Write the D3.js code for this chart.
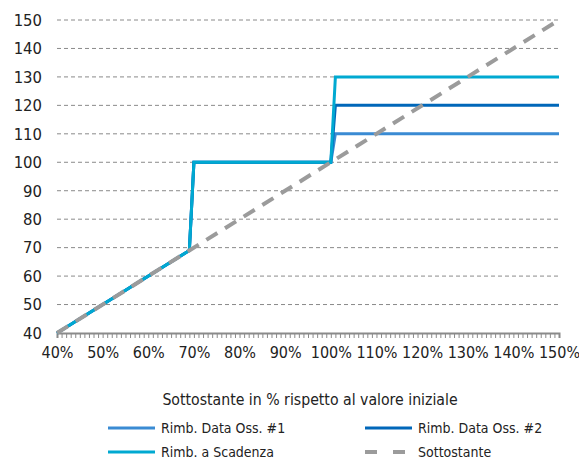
<!DOCTYPE html>
<html>
<head>
<meta charset="utf-8">
<script src="https://cdn.jsdelivr.net/npm/d3@7"></script>
<style>
  body { margin: 0; background: #fff; }
  svg text { font-family: "DejaVu Sans Condensed", "DejaVu Sans", sans-serif; fill: #222; }
</style>
</head>
<body>
<svg id="chart" width="579" height="460"></svg>
<script>
// Breakpoints of the payoff curves (underlying level in % of initial value)
const levels = [40, 69, 70, 100, 101, 150];
const rimbOss1 = [40, 69, 100, 100, 110, 110];
const rimbOss2 = [40, 69, 100, 100, 120, 120];
const rimbScadenza = [40, 69, 100, 100, 130, 130];
const sottostanteX = [40, 150];
const sottostanteY = [40, 150];

const xTicks = [40, 50, 60, 70, 80, 90, 100, 110, 120, 130, 140, 150];
const yTicks = [40, 50, 60, 70, 80, 90, 100, 110, 120, 130, 140, 150];

const xTitle = 'Sottostante in % rispetto al valore iniziale';

const series = [
  { name: 'Rimb. Data Oss. #1', xs: levels, ys: rimbOss1, color: '#3a8bd3', dash: null },
  { name: 'Rimb. Data Oss. #2', xs: levels, ys: rimbOss2, color: '#0067b9', dash: null },
  { name: 'Rimb. a Scadenza', xs: levels, ys: rimbScadenza, color: '#00a9d1', dash: null },
  { name: 'Sottostante', xs: sottostanteX, ys: sottostanteY, color: '#9b9b9b', dash: '13,9' }
];

const svg = d3.select('#chart');
const margin = { left: 57, right: 20, top: 20, bottom: 127 };
const width = 579 - margin.left - margin.right;
const height = 460 - margin.top - margin.bottom;

const x = d3.scaleLinear().domain([40, 150]).range([0, width]);
const y = d3.scaleLinear().domain([40, 150]).range([height, 0]);

const g = svg.append('g').attr('transform', `translate(${margin.left},${margin.top})`);

// horizontal dashed gridlines
g.append('g')
  .selectAll('line')
  .data(yTicks.filter(d => d > 40))
  .enter()
  .append('line')
  .attr('x1', 0)
  .attr('x2', width)
  .attr('y1', d => y(d))
  .attr('y2', d => y(d))
  .attr('stroke', '#8a8a8a')
  .attr('stroke-width', 1)
  .attr('stroke-dasharray', '4,3');

// y axis labels
const yAxis = g.append('g')
  .call(d3.axisLeft(y).tickValues(yTicks).tickSize(0).tickPadding(15));
yAxis.select('.domain').remove();
yAxis.selectAll('text').style('font-size', '16.5px');

// x axis: minor ticks every 1%
const minor = g.append('g')
  .attr('transform', `translate(0,${height})`)
  .call(d3.axisBottom(x).ticks(110).tickSize(5).tickFormat(''));
minor.select('.domain').attr('stroke', '#8a8a8a').attr('stroke-width', 2);
minor.selectAll('.tick line').attr('stroke', '#8a8a8a');

const xAxis = g.append('g')
  .attr('transform', `translate(0,${height})`)
  .call(d3.axisBottom(x).tickValues(xTicks).tickSize(0).tickPadding(14).tickFormat(d => d + '%'));
xAxis.select('.domain').remove();
xAxis.selectAll('text').style('font-size', '16px');

// series lines
const line = d3.line().x(d => x(d[0])).y(d => y(d[1]));
g.selectAll('.series')
  .data(series)
  .enter()
  .append('path')
  .attr('class', 'series')
  .attr('d', s => line(s.xs.map((v, i) => [v, s.ys[i]])))
  .attr('fill', 'none')
  .attr('stroke', s => s.color)
  .attr('stroke-width', s => (s.dash ? 4 : 3))
  .attr('stroke-dasharray', s => s.dash);

// axis title
svg.append('text')
  .attr('x', margin.left + width / 2 + 2)
  .attr('y', 405)
  .attr('text-anchor', 'middle')
  .style('font-size', '15.7px')
  .text(xTitle);

// legend
const legendPos = [[108, 428], [365, 428], [108, 452], [365, 452]];
const legend = svg.selectAll('.legend')
  .data(series)
  .enter()
  .append('g')
  .attr('class', 'legend')
  .attr('transform', (d, i) => `translate(${legendPos[i][0]},${legendPos[i][1]})`);

legend.append('line')
  .attr('x1', 0)
  .attr('x2', 47)
  .attr('stroke', d => d.color)
  .attr('stroke-width', d => (d.dash ? 4 : 3))
  .attr('stroke-dasharray', d => (d.dash ? '12,16' : null));

legend.append('text')
  .attr('x', 53)
  .attr('dy', '0.35em')
  .style('font-size', '14px')
  .text(d => d.name);
</script>
</body>
</html>
